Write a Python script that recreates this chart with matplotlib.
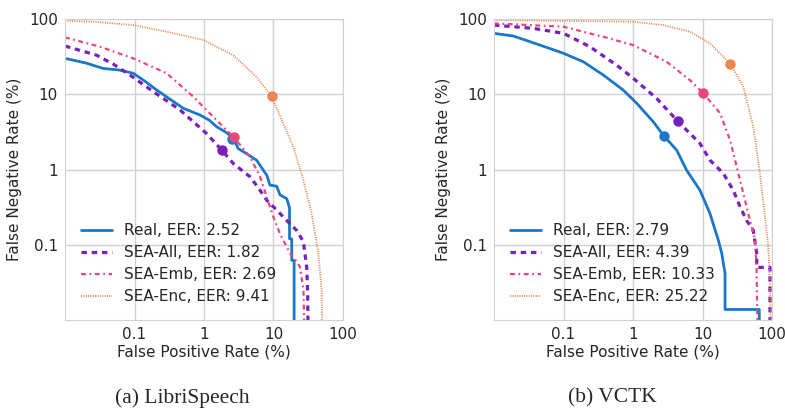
import numpy as np
import matplotlib
matplotlib.use("Agg")
import matplotlib.pyplot as plt
import seaborn as sns

sns.set_style("whitegrid")
plt.rcParams['font.family'] = ['DejaVu Sans']

labels = ["Real", "SEA-All", "SEA-Emb", "SEA-Enc"]
colors = ["#1c77c9", "#7a1fbf", "#e9477b", "#ea874e"]

# (a) LibriSpeech, FPR / FNR in %
libri_eer = [2.52, 1.82, 2.69, 9.41]
libri_real_fpr = [0.01, 0.02, 0.0356, 0.06, 0.096, 0.14, 0.208, 0.33, 0.505, 0.875, 1.2, 1.52, 2.1,
                  2.64, 3.1, 4.2, 5.7, 8.0, 8.9, 11.1, 12.4, 15.5, 17.0, 17.0, 18.3, 18.3, 19.8, 19.8]
libri_real_fnr = [30, 26, 22, 21, 19, 15, 11.4, 8.5, 6.5, 5.3, 4.5, 3.7, 3.1,
                  2.6, 1.9, 1.6, 1.33, 0.84, 0.62, 0.60, 0.46, 0.41, 0.31, 0.12, 0.12, 0.062,
                  0.062, 0.005]
libri_all_fpr = [0.01, 0.0286, 0.05, 0.086, 0.187, 0.45, 1.09, 1.8, 2.64, 4.6, 6.4, 8.0, 11.1, 15.5,
                 21.4, 26.9, 30.0, 31.0, 31.6]
libri_all_fnr = [43.7, 33, 25, 18, 10.8, 6.2, 3.0, 1.81, 1.2, 0.8, 0.53, 0.39, 0.29, 0.21,
                 0.156, 0.11, 0.051, 0.0225, 0.005]
libri_emb_fpr = [0.01, 0.032, 0.096, 0.29, 0.70, 1.36, 2.64, 4.6, 6.4, 8.0, 9.95, 12.4, 17.3,
                 20.8, 24.0, 27.0, 28.0]
libri_emb_fnr = [57, 42.8, 30, 19, 9.3, 5.0, 2.72, 1.47, 0.8, 0.43, 0.235, 0.14, 0.077,
                 0.062, 0.051, 0.025, 0.005]
libri_enc_fpr = [0.01, 0.03, 0.096, 0.29, 0.98, 2.64, 5.7, 9.4, 13.8, 19.3, 26.9, 35.4, 44.2, 49.3,
                 50.5]
libri_enc_fnr = [95, 91, 83, 67.8, 52.6, 33, 17, 9.27, 4.1, 2.0, 0.72, 0.26, 0.077, 0.025, 0.005]

# (b) VCTK
vctk_eer = [2.79, 4.39, 10.33, 25.22]
vctk_real_fpr = [0.01, 0.019, 0.0459, 0.1, 0.193, 0.374, 0.72, 1.13, 1.96, 2.79, 4.25, 5.9, 9.2,
                 12.8, 16.9, 18.9, 21.1, 21.1, 65.6, 65.6]
vctk_real_fnr = [64.5, 59.4, 45, 35, 27, 18, 11.4, 7.6, 4.3, 2.78, 1.81, 0.98, 0.53,
                 0.26, 0.115, 0.077, 0.0415, 0.0138, 0.0138, 0.005]
vctk_all_fpr = [0.01, 0.037, 0.1, 0.24, 0.58, 1.01, 2.19, 4.49, 9.2, 12.8, 19.9, 27.7, 34.7,
                43.2, 53.7, 60.3, 60.3, 93.5, 93.5]
vctk_all_fnr = [83, 75, 64.5, 42.8, 24.4, 16.3, 8.8, 4.3, 2.22, 1.33, 0.89, 0.53, 0.32,
                0.21, 0.156, 0.077, 0.05, 0.05, 0.005]
vctk_emb_fpr = [0.01, 0.1, 0.374, 1.01, 3.05, 6.6, 10.3, 17.9, 24.9, 31.0, 38.7, 48.2, 56.9,
                60.0, 62.0]
vctk_emb_fnr = [87.5, 79, 58, 45, 27, 15.4, 10.3, 5.6, 2.46, 1.09, 0.48, 0.21, 0.115,
                0.051, 0.005]
vctk_enc_fpr = [0.01, 1.0, 2.73, 6.6, 12.8, 25.4, 38.7, 53.7, 67, 79.3, 88.5, 93.5, 97]
vctk_enc_fnr = [97, 92, 83, 67.8, 47.5, 25, 12.6, 3.7, 0.89, 0.235, 0.094, 0.0305, 0.005]

panels = [
    ("(a) LibriSpeech", libri_eer,
     [(libri_real_fpr, libri_real_fnr), (libri_all_fpr, libri_all_fnr),
      (libri_emb_fpr, libri_emb_fnr), (libri_enc_fpr, libri_enc_fnr)]),
    ("(b) VCTK", vctk_eer,
     [(vctk_real_fpr, vctk_real_fnr), (vctk_all_fpr, vctk_all_fnr),
      (vctk_emb_fpr, vctk_emb_fnr), (vctk_enc_fpr, vctk_enc_fnr)]),
]

styles = [
    dict(linestyle='-', lw=2.0),
    dict(linestyle=(0, (1.7, 1.5)), lw=2.3),
    dict(linestyle=(0, (2.2, 1.6, 0.8, 1.6)), lw=1.6),
    dict(linestyle=(0, (0.6, 0.7)), lw=1.3),
]

fig = plt.figure(figsize=(7.85, 4.09), dpi=100)
lefts = [65 / 785, 494 / 785]
caption_x = [182.5 / 785, 612 / 785]

for i, (caption, eers, curves) in enumerate(panels):
    ax = fig.add_axes([lefts[i], 89 / 409, 278 / 785, 301 / 409])
    for j, (fpr, fnr) in enumerate(curves):
        ax.plot(fpr, fnr, color=colors[j], label="%s, EER: %.2f" % (labels[j], eers[j]),
                **styles[j])
    for j in range(4):
        ax.plot(eers[j], eers[j], 'o', color=colors[j], markersize=6.5, zorder=5)
    ax.set_xscale('log')
    ax.set_yscale('log')
    ax.set_xlim(0.01, 100)
    ax.set_ylim(0.01, 100)
    ticks = [0.1, 1, 10, 100]
    ax.set_xticks(ticks)
    ax.set_xticklabels(["0.1", "1", "10", "100"])
    ax.set_yticks(ticks)
    ax.set_yticklabels(["0.1", "1", "10", "100"])
    ax.minorticks_off()
    ax.tick_params(labelsize=11, colors='.15', length=0, pad=5)
    ax.grid(True, color='.82', lw=1.0)
    for s in ax.spines.values():
        s.set_color('.82')
    ax.set_xlabel("False Positive Rate (%)", fontsize=11, color='.15', labelpad=2)
    ax.set_ylabel("False Negative Rate (%)", fontsize=11, color='.15', labelpad=5)
    ax.legend(loc='lower left', frameon=False, fontsize=11, handlelength=2.0,
              borderaxespad=0.65, labelspacing=0.45)
    fig.text(caption_x[i], 11 / 409, caption, ha='center', va='center',
             fontsize=15.5, family='Liberation Serif')

plt.savefig('out.png', dpi=100)
